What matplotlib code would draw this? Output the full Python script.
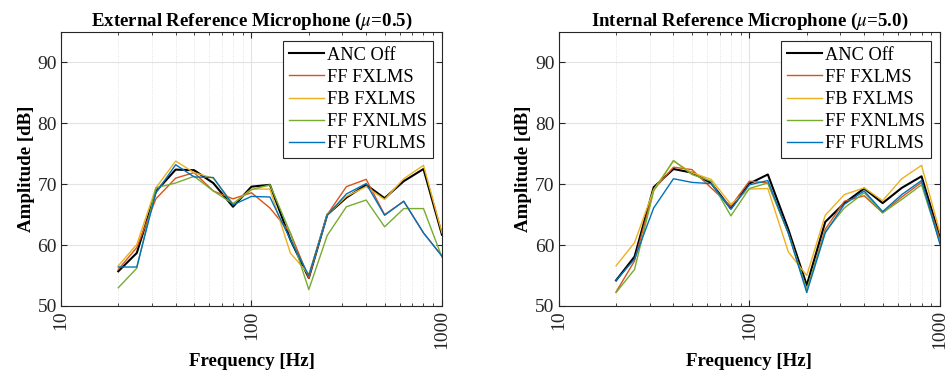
import matplotlib
matplotlib.use("Agg")
import matplotlib.pyplot as plt
from matplotlib.ticker import FixedLocator, NullFormatter

plt.rcParams['font.family'] = ['Liberation Serif', 'DejaVu Serif']
plt.rcParams['mathtext.fontset'] = 'stix'

# third-octave band centre frequencies
freqs = [20, 25, 31.5, 40, 50, 63, 80, 100, 125, 160, 200, 250, 315, 400, 500, 630, 800, 1000]

labels = ["ANC Off", "FF FXLMS", "FB FXLMS", "FF FXNLMS", "FF FURLMS"]
colors = ["#000000", "#D95319", "#EDB120", "#77AC30", "#0072BD"]
widths = [1.5, 1.0, 1.0, 1.0, 1.0]

# external reference microphone (mu = 0.5)
ext_anc_off = [55.7, 58.7, 68.8, 72.4, 72.3, 70.2, 66.3, 69.6, 69.9, 60.9, 54.6, 65.0, 67.8, 69.9, 67.7, 70.5, 72.5, 61.7]
ext_ff_fxlms = [56.0, 59.6, 67.6, 71.0, 71.9, 68.9, 67.6, 68.6, 66.1, 62.0, 54.6, 65.0, 69.6, 70.8, 65.0, 67.2, 62.0, 58.2]
ext_fb_fxlms = [56.6, 60.1, 69.4, 73.8, 71.9, 71.0, 66.8, 69.2, 69.2, 58.7, 55.2, 65.0, 68.0, 69.6, 67.5, 70.9, 73.1, 62.0]
ext_ff_fxnlms = [53.0, 56.2, 69.4, 70.2, 71.3, 68.9, 66.8, 69.1, 69.9, 62.0, 52.7, 61.6, 66.3, 67.4, 63.0, 66.0, 66.0, 58.0]
ext_ff_furlms = [56.4, 56.4, 68.6, 73.2, 71.2, 71.1, 66.6, 68.0, 67.9, 60.9, 55.0, 64.9, 68.4, 70.1, 64.9, 67.2, 62.0, 58.2]

# internal reference microphone (mu = 5.0)
int_anc_off = [54.2, 58.1, 69.5, 72.5, 71.9, 70.2, 66.0, 70.1, 71.6, 62.6, 53.4, 63.8, 66.9, 69.3, 66.9, 69.4, 71.3, 61.2]
int_ff_fxlms = [52.3, 57.4, 69.1, 72.8, 72.4, 69.4, 66.4, 70.5, 70.2, 62.0, 52.6, 62.6, 67.2, 68.1, 65.3, 67.9, 70.3, 60.9]
int_fb_fxlms = [56.6, 60.4, 69.1, 73.8, 71.9, 70.8, 66.7, 69.2, 69.3, 58.9, 55.0, 64.9, 68.3, 69.4, 67.3, 70.9, 73.1, 62.0]
int_ff_fxnlms = [52.2, 56.0, 68.9, 73.9, 71.6, 70.5, 64.8, 69.3, 70.2, 62.0, 52.7, 62.2, 66.1, 68.6, 65.3, 67.5, 69.9, 60.4]
int_ff_furlms = [54.2, 57.7, 66.1, 70.9, 70.3, 70.1, 65.9, 69.9, 70.6, 62.0, 52.2, 62.0, 66.7, 68.9, 65.5, 68.3, 70.6, 60.1]

panels = [
    (r"External Reference Microphone ($\mu$=0.5)",
     [ext_anc_off, ext_ff_fxlms, ext_fb_fxlms, ext_ff_fxnlms, ext_ff_furlms]),
    (r"Internal Reference Microphone ($\mu$=5.0)",
     [int_anc_off, int_ff_fxlms, int_fb_fxlms, int_ff_fxnlms, int_ff_furlms]),
]

axis_col = "#262626"
fig = plt.figure(figsize=(9.48, 3.76), dpi=100)
boxes = [[0.0643, 0.1862, 0.4019, 0.7287], [0.5893, 0.1862, 0.4023, 0.7287]]

for box, (title, series) in zip(boxes, panels):
    ax = fig.add_axes(box)
    for vals, lab, col, lw in zip(series, labels, colors, widths):
        ax.plot(freqs, vals, color=col, lw=lw, label=lab)

    ax.set_xscale("log")
    ax.set_xlim(10, 1000)
    ax.set_ylim(50, 95)
    ax.set_yticks([50, 60, 70, 80, 90])
    ax.xaxis.set_major_locator(FixedLocator([10, 100, 1000]))
    ax.set_xticklabels(["10", "100", "1000"], rotation=90)
    minors = [m * d for d in (10, 100) for m in range(2, 10)]
    ax.xaxis.set_minor_locator(FixedLocator(minors))
    ax.xaxis.set_minor_formatter(NullFormatter())

    ax.grid(True, which="major", color="#e3e3e3", lw=0.8)
    ax.grid(True, which="minor", color="#dcdcdc", lw=0.6, ls=":")
    ax.set_axisbelow(True)

    for s in ax.spines.values():
        s.set_color(axis_col)
        s.set_linewidth(0.8)
    ax.tick_params(which="both", direction="in", top=True, right=True,
                   colors=axis_col, labelsize=14, pad=3)
    ax.tick_params(which="major", length=4)
    ax.tick_params(which="minor", length=2)

    ax.set_title(title, fontsize=13.6, fontweight="bold", pad=4)
    ax.set_xlabel("Frequency [Hz]", fontsize=13.6, fontweight="bold", labelpad=3)
    ax.set_ylabel("Amplitude [dB]", fontsize=13.6, fontweight="bold", labelpad=2)

    leg = ax.legend(loc="upper right", fontsize=13.2, frameon=True, fancybox=False,
                    borderpad=0.3, labelspacing=0.28, handlelength=1.9,
                    handletextpad=0.2, borderaxespad=0.5)
    leg.get_frame().set_edgecolor(axis_col)
    leg.get_frame().set_linewidth(0.8)
    leg.get_frame().set_alpha(1)

fig.savefig("out.png", dpi=100)
